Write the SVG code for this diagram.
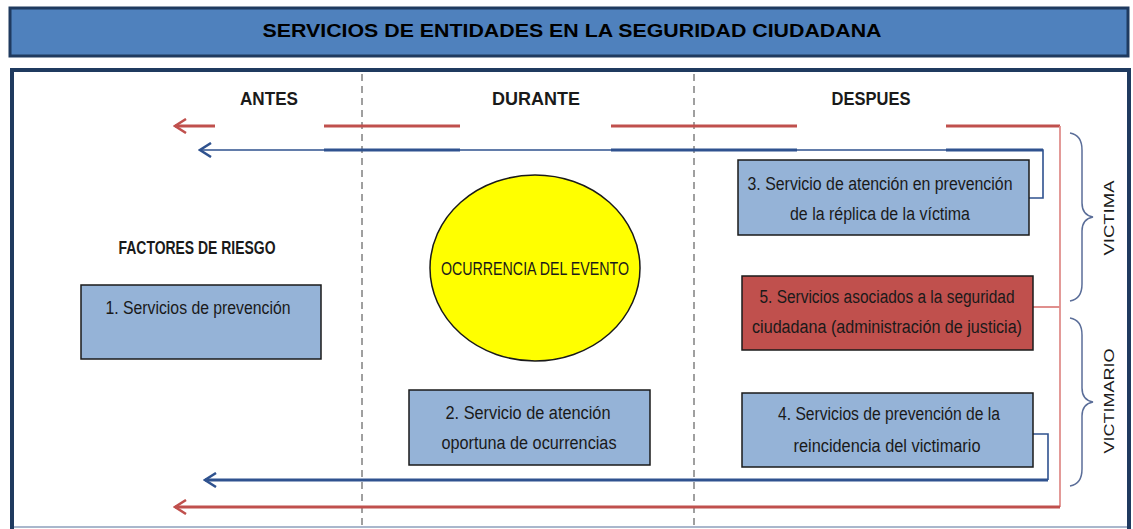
<svg xmlns="http://www.w3.org/2000/svg" width="1133" height="529" viewBox="0 0 1133 529">
<defs>
<style>
.t{font-family:"Liberation Sans Narrow","Liberation Sans",Arial,sans-serif;font-size:18px;fill:#1a1a1a;text-anchor:middle}
.b{font-weight:bold}
.box{fill:#95B3D7;stroke:#1a1a1a;stroke-width:1.5}
.dash{stroke:#404040;stroke-width:1;stroke-dasharray:7 5;fill:none}
.red{stroke:#C0504D;fill:none}
.blue{stroke:#2F528F;fill:none}
.brace{stroke:#5B6E99;stroke-width:1.5;fill:none}
</style>
<marker id="ar" viewBox="0 0 14 16" refX="12" refY="8" markerWidth="14" markerHeight="16" markerUnits="userSpaceOnUse" orient="auto">
<path d="M1,1 L12,8 L1,15" fill="none" stroke="#C0504D" stroke-width="2.5"/>
</marker>
<marker id="ab" viewBox="0 0 14 16" refX="12" refY="8" markerWidth="14" markerHeight="16" markerUnits="userSpaceOnUse" orient="auto">
<path d="M1,1 L12,8 L1,15" fill="none" stroke="#2F528F" stroke-width="2.5"/>
</marker>
</defs>
<rect width="1133" height="529" fill="#ffffff"/>
<g id="title">
<rect x="10" y="8" width="1118" height="48" fill="#4F81BD" stroke="#1F3A5F" stroke-width="3"/>
<text x="572" y="37" font-family="Liberation Sans, Arial, sans-serif" font-size="18.5" font-weight="bold" fill="#000" text-anchor="middle" textLength="619" lengthAdjust="spacingAndGlyphs">SERVICIOS DE ENTIDADES EN LA SEGURIDAD CIUDADANA</text>
</g>
<g id="frame">
<line x1="10" y1="527" x2="1130" y2="527" stroke="#A9B7CC" stroke-width="2"/>
<path d="M12,529 V70 H1129 V529" fill="none" stroke="#1F3A5F" stroke-width="4"/>
<line class="dash" x1="362" y1="74" x2="362" y2="529"/>
<line class="dash" x1="694" y1="74" x2="694" y2="529"/>
</g>
<g id="headers">
<text class="t b" x="269" y="105" font-size="19.5" textLength="58" lengthAdjust="spacingAndGlyphs">ANTES</text>
<text class="t b" x="536" y="105" font-size="19.5" textLength="88" lengthAdjust="spacingAndGlyphs">DURANTE</text>
<text class="t b" x="871" y="105" font-size="19.5" textLength="79" lengthAdjust="spacingAndGlyphs">DESPUES</text>
</g>
<g id="connectors">
<line class="red" x1="215" y1="126" x2="175" y2="126" stroke-width="3" marker-end="url(#ar)"/>
<line class="red" x1="324" y1="126" x2="460" y2="126" stroke-width="3"/>
<line class="red" x1="611" y1="126" x2="797" y2="126" stroke-width="3"/>
<line class="red" x1="946" y1="126" x2="1060" y2="126" stroke-width="3"/>
<path d="M1033,307 H1060 V126 M1060,307 V507" fill="none" stroke="#E08F8D" stroke-width="1.8"/>
<line class="red" x1="1060" y1="507" x2="175" y2="507" stroke-width="3" marker-end="url(#ar)"/>
<path class="blue" d="M1029,198 H1043 V150 H200" stroke-width="1.6" marker-end="url(#ab)"/>
<line class="blue" x1="324" y1="150" x2="460" y2="150" stroke-width="3"/>
<line class="blue" x1="611" y1="150" x2="797" y2="150" stroke-width="3"/>
<line class="blue" x1="946" y1="150" x2="1043" y2="150" stroke-width="3"/>
<path class="blue" d="M1033,434 H1048 V480" stroke-width="1.6"/>
<line class="blue" x1="1048" y1="480" x2="205" y2="480" stroke-width="3" marker-end="url(#ab)"/>
</g>
<g id="factores">
<text class="t b" x="197" y="254" font-size="17" textLength="157" lengthAdjust="spacingAndGlyphs">FACTORES DE RIESGO</text>
</g>
<g id="node1">
<rect class="box" x="81" y="285" width="240" height="74"/>
<text class="t" x="198" y="314" textLength="185" lengthAdjust="spacingAndGlyphs">1. Servicios de prevención</text>
</g>
<g id="evento">
<ellipse cx="535" cy="268" rx="105" ry="93" fill="#FFFF00" stroke="#1a1a1a" stroke-width="1.5"/>
<text class="t" x="535" y="275" textLength="188" lengthAdjust="spacingAndGlyphs">OCURRENCIA DEL EVENTO</text>
</g>
<g id="node2">
<rect class="box" x="409" y="390" width="241" height="75"/>
<text class="t" x="528" y="419" textLength="165" lengthAdjust="spacingAndGlyphs">2. Servicio de atención</text>
<text class="t" x="529" y="449" textLength="175" lengthAdjust="spacingAndGlyphs">oportuna de ocurrencias</text>
</g>
<g id="node3">
<rect class="box" x="738" y="160" width="291" height="75"/>
<text class="t" x="880" y="190" textLength="265" lengthAdjust="spacingAndGlyphs">3. Servicio de atención en prevención</text>
<text class="t" x="880" y="220" textLength="180" lengthAdjust="spacingAndGlyphs">de la réplica de la víctima</text>
</g>
<g id="node5">
<rect x="742" y="276" width="291" height="74" fill="#C0504D" stroke="#1a1a1a" stroke-width="1.5"/>
<text class="t" x="887" y="303" textLength="255" lengthAdjust="spacingAndGlyphs">5. Servicios asociados a la seguridad</text>
<text class="t" x="887" y="333" textLength="270" lengthAdjust="spacingAndGlyphs">ciudadana (administración de justicia)</text>
</g>
<g id="node4">
<rect class="box" x="742" y="393" width="291" height="74"/>
<text class="t" x="889" y="420" textLength="222" lengthAdjust="spacingAndGlyphs">4. Servicios de prevención de la</text>
<text class="t" x="887" y="452" textLength="187" lengthAdjust="spacingAndGlyphs">reincidencia del victimario</text>
</g>
<g id="victima">
<path class="brace" d="M1070,133 Q1082,135 1082,150 V203 Q1082,215 1093,217 Q1082,219 1082,231 V284 Q1082,299 1070,301"/>
<text x="0" y="0" transform="translate(1114,218) rotate(-90)" font-family="Liberation Sans, Arial, sans-serif" font-size="15" fill="#1a1a1a" text-anchor="middle" textLength="75" lengthAdjust="spacingAndGlyphs">VICTIMA</text>
</g>
<g id="victimario">
<path class="brace" d="M1070,318 Q1082,320 1082,335 V388 Q1082,400 1093,402 Q1082,404 1082,416 V469 Q1082,484 1070,486"/>
<text x="0" y="0" transform="translate(1114,401) rotate(-90)" font-family="Liberation Sans, Arial, sans-serif" font-size="15" fill="#1a1a1a" text-anchor="middle" textLength="105" lengthAdjust="spacingAndGlyphs">VICTIMARIO</text>
</g>
</svg>
